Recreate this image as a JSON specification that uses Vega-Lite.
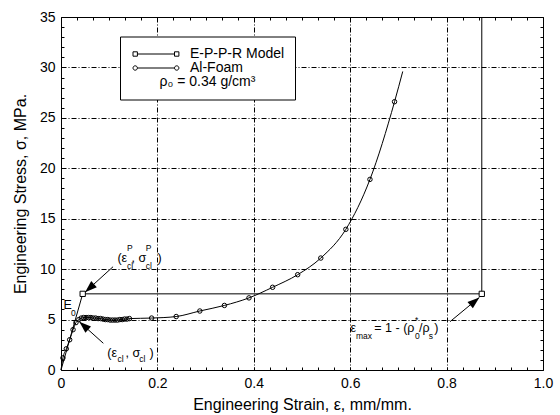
{
  "$schema": "https://vega.github.io/schema/vega-lite/v6.json",
  "width": 482,
  "height": 353,
  "autosize": {"type": "none"},
  "padding": {"left": 61, "top": 17, "right": 17, "bottom": 45},
  "background": "white",
  "config": {
    "view": {"stroke": "black", "strokeWidth": 1},
    "font": "Liberation Sans",
    "axis": {
      "labelFont": "Liberation Sans",
      "labelFontSize": 14,
      "labelColor": "black",
      "titleFont": "Liberation Sans",
      "titleFontSize": 16,
      "titleFontWeight": "normal",
      "titleColor": "black",
      "tickColor": "black",
      "tickWidth": 1,
      "domain": false
    }
  },
  "datasets": {
    "model": [
      {"series": "E-P-P-R Model", "strain": 0, "stress": 0},
      {"series": "E-P-P-R Model", "strain": 0.045, "stress": 7.55},
      {"series": "E-P-P-R Model", "strain": 0.873, "stress": 7.55},
      {"series": "E-P-P-R Model", "strain": 0.873, "stress": 35}
    ],
    "foam": [
      {"series": "Al-Foam", "strain": 0, "stress": 0},
      {"series": "Al-Foam", "strain": 0.004, "stress": 1.2},
      {"series": "Al-Foam", "strain": 0.011, "stress": 2.1},
      {"series": "Al-Foam", "strain": 0.018, "stress": 3.0},
      {"series": "Al-Foam", "strain": 0.025, "stress": 4.0},
      {"series": "Al-Foam", "strain": 0.031, "stress": 4.7},
      {"series": "Al-Foam", "strain": 0.037, "stress": 5.0},
      {"series": "Al-Foam", "strain": 0.042, "stress": 5.15},
      {"series": "Al-Foam", "strain": 0.047, "stress": 5.2},
      {"series": "Al-Foam", "strain": 0.052, "stress": 5.2},
      {"series": "Al-Foam", "strain": 0.057, "stress": 5.2},
      {"series": "Al-Foam", "strain": 0.062, "stress": 5.2},
      {"series": "Al-Foam", "strain": 0.067, "stress": 5.15},
      {"series": "Al-Foam", "strain": 0.072, "stress": 5.15},
      {"series": "Al-Foam", "strain": 0.077, "stress": 5.1},
      {"series": "Al-Foam", "strain": 0.082, "stress": 5.1},
      {"series": "Al-Foam", "strain": 0.087, "stress": 5.05},
      {"series": "Al-Foam", "strain": 0.092, "stress": 5.0},
      {"series": "Al-Foam", "strain": 0.097, "stress": 5.0},
      {"series": "Al-Foam", "strain": 0.102, "stress": 4.95},
      {"series": "Al-Foam", "strain": 0.107, "stress": 4.95},
      {"series": "Al-Foam", "strain": 0.112, "stress": 4.95},
      {"series": "Al-Foam", "strain": 0.117, "stress": 4.95},
      {"series": "Al-Foam", "strain": 0.122, "stress": 5.0},
      {"series": "Al-Foam", "strain": 0.127, "stress": 5.0},
      {"series": "Al-Foam", "strain": 0.132, "stress": 5.05},
      {"series": "Al-Foam", "strain": 0.137, "stress": 5.05},
      {"series": "Al-Foam", "strain": 0.142, "stress": 5.1},
      {"series": "Al-Foam", "strain": 0.188, "stress": 5.15},
      {"series": "Al-Foam", "strain": 0.239, "stress": 5.3},
      {"series": "Al-Foam", "strain": 0.288, "stress": 5.85},
      {"series": "Al-Foam", "strain": 0.339, "stress": 6.4},
      {"series": "Al-Foam", "strain": 0.39, "stress": 7.15},
      {"series": "Al-Foam", "strain": 0.439, "stress": 8.2},
      {"series": "Al-Foam", "strain": 0.491, "stress": 9.45},
      {"series": "Al-Foam", "strain": 0.539, "stress": 11.1},
      {"series": "Al-Foam", "strain": 0.591, "stress": 13.95},
      {"series": "Al-Foam", "strain": 0.641, "stress": 18.9},
      {"series": "Al-Foam", "strain": 0.692, "stress": 26.6},
      {"series": "Al-Foam", "strain": 0.709, "stress": 29.6}
    ],
    "notes": [
      {"kind": "main", "strain": 0.117, "stress": 11.15, "text": "(ε"},
      {"kind": "script", "strain": 0.137, "stress": 12.05, "text": "P"},
      {"kind": "script", "strain": 0.137, "stress": 10.3, "text": "cl"},
      {"kind": "main", "strain": 0.1463, "stress": 11.15, "text": ", σ"},
      {"kind": "script", "strain": 0.1757, "stress": 12.05, "text": "P"},
      {"kind": "script", "strain": 0.1757, "stress": 10.3, "text": "cl"},
      {"kind": "main", "strain": 0.2, "stress": 11.15, "text": ")"},
      {"kind": "main", "strain": 0.0961, "stress": 1.66, "text": "(ε"},
      {"kind": "script", "strain": 0.117, "stress": 1.1, "text": "cl"},
      {"kind": "main", "strain": 0.1338, "stress": 1.66, "text": ", σ"},
      {"kind": "script", "strain": 0.1624, "stress": 1.1, "text": "cl"},
      {"kind": "main", "strain": 0.1836, "stress": 1.66, "text": ")"},
      {"kind": "main", "strain": 0.6006, "stress": 4.13, "text": "ε"},
      {"kind": "script", "strain": 0.612, "stress": 3.4, "text": "max"},
      {"kind": "main", "strain": 0.65, "stress": 4.13, "text": "= 1 - (ρ"},
      {"kind": "script", "strain": 0.7345, "stress": 3.4, "text": "0"},
      {"kind": "script", "strain": 0.7345, "stress": 5.0, "text": "*"},
      {"kind": "main", "strain": 0.7427, "stress": 4.13, "text": "/ρ"},
      {"kind": "script", "strain": 0.763, "stress": 3.4, "text": "s"},
      {"kind": "main", "strain": 0.7745, "stress": 4.13, "text": ")"},
      {"kind": "main", "strain": 0.005, "stress": 6.44, "text": "E"},
      {"kind": "script", "strain": 0.0207, "stress": 5.7, "text": "0"}
    ],
    "arrows": [
      {"arrow": "A", "from_strain": 0.108, "from_stress": 10.24, "to_strain": 0.05, "to_stress": 7.72},
      {"arrow": "B", "from_strain": 0.0878, "from_stress": 2.65, "to_strain": 0.038, "to_stress": 4.79},
      {"arrow": "C", "from_strain": 0.807, "from_stress": 4.79, "to_strain": 0.868, "to_stress": 7.2}
    ]
  },
  "layer": [
    {
      "data": {"name": "foam"},
      "mark": {"type": "line", "color": "black", "strokeWidth": 1, "interpolate": "monotone"},
      "encoding": {
        "x": {
          "field": "strain", "type": "quantitative",
          "scale": {"domain": [0, 1], "nice": false, "zero": false},
          "axis": {
            "orient": "bottom",
            "values": [0,0.033333,0.066667,0.1,0.133333,0.166667,0.2,0.233333,0.266667,0.3,0.333333,0.366667,0.4,0.433333,0.466667,0.5,0.533333,0.566667,0.6,0.633333,0.666667,0.7,0.733333,0.766667,0.8,0.833333,0.866667,0.9,0.933333,0.966667,1],
            "title": "Engineering Strain, ε, mm/mm.",
            "labelExpr": "abs(datum.value*5-round(datum.value*5))<0.001 ? (datum.value < 0.001 ? '0' : format(datum.value, '.1f')) : ''",
            "labelOverlap": false,
            "labelFlush": false,
            "tickSize": -3,
            "labelPadding": 9,
            "titlePadding": 6,
            "grid": true,
            "gridColor": "black",
            "gridWidth": 1,
            "gridDash": [5, 2, 1, 2],
            "gridOpacity": {"condition": {"test": "abs(datum.value*5-round(datum.value*5))<0.001 && datum.value>0.001 && datum.value<0.999", "value": 1}, "value": 0}
          }
        },
        "y": {
          "field": "stress", "type": "quantitative",
          "scale": {"domain": [0, 35], "nice": false},
          "axis": {
            "orient": "left",
            "values": [0,1,2,3,4,5,6,7,8,9,10,11,12,13,14,15,16,17,18,19,20,21,22,23,24,25,26,27,28,29,30,31,32,33,34,35],
            "title": "Engineering Stress, σ, MPa.",
            "labelExpr": "datum.value % 5 == 0 ? datum.label : ''",
            "labelOverlap": false,
            "labelFlush": false,
            "tickSize": -3,
            "labelPadding": 9,
            "titlePadding": 11,
            "grid": true,
            "gridColor": "black",
            "gridWidth": 1,
            "gridDash": [5, 2, 1, 2],
            "gridOpacity": {"condition": {"test": "datum.value % 5 == 0 && datum.value > 0 && datum.value < 35", "value": 1}, "value": 0}
          }
        }
      }
    },
    {
      "data": {"name": "model"},
      "mark": {"type": "line", "color": "black", "strokeWidth": 1},
      "encoding": {
        "x": {
          "field": "strain", "type": "quantitative",
          "axis": {
            "orient": "top",
            "values": [0,0.033333,0.066667,0.1,0.133333,0.166667,0.2,0.233333,0.266667,0.3,0.333333,0.366667,0.4,0.433333,0.466667,0.5,0.533333,0.566667,0.6,0.633333,0.666667,0.7,0.733333,0.766667,0.8,0.833333,0.866667,0.9,0.933333,0.966667,1],
            "labels": false, "grid": false, "title": null, "tickSize": -3
          }
        },
        "y": {
          "field": "stress", "type": "quantitative",
          "axis": {
            "orient": "right",
            "values": [0,1,2,3,4,5,6,7,8,9,10,11,12,13,14,15,16,17,18,19,20,21,22,23,24,25,26,27,28,29,30,31,32,33,34,35],
            "labels": false, "grid": false, "title": null, "tickSize": -3
          }
        }
      }
    },
    {
      "data": {"name": "foam"},
      "mark": {"type": "point", "filled": false, "color": "black", "strokeWidth": 1, "size": 16, "opacity": 0},
      "encoding": {
        "x": {"field": "strain", "type": "quantitative", "axis": null},
        "y": {"field": "stress", "type": "quantitative", "axis": null},
        "shape": {
          "field": "series", "type": "nominal",
          "scale": {
            "domain": ["E-P-P-R Model", "Al-Foam"],
            "range": [
              "M-2.25,-1.1h2.2v2.2h-2.2zM-0.05,0H18.5M18.5,-1.1h2.2v2.2h-2.2z",
              "M-2.25,0a1.1,1.1 0 1,0 2.2,0a1.1,1.1 0 1,0 -2.2,0M-0.05,0H18.5M18.5,0a1.1,1.1 0 1,0 2.2,0a1.1,1.1 0 1,0 -2.2,0"
            ]
          },
          "legend": {
            "title": "ρ₀ = 0.34 g/cm³",
            "titleOrient": "bottom",
            "titleAnchor": "middle",
            "titleFont": "Liberation Sans",
            "titleFontSize": 14,
            "titleFontWeight": "normal",
            "titleColor": "black",
            "titlePadding": 0,
            "titleLimit": 300,
            "orient": "none",
            "legendX": 59,
            "legendY": 19.5,
            "padding": 10.5,
            "strokeColor": "black",
            "fillColor": "white",
            "labelFont": "Liberation Sans",
            "labelFontSize": 14,
            "labelColor": "black",
            "labelOffset": 45.5,
            "labelLimit": 300,
            "symbolSize": 16,
            "symbolStrokeWidth": 1,
            "symbolStrokeColor": "black",
            "symbolFillColor": "transparent",
            "symbolOpacity": 1,
            "rowPadding": 0
          }
        }
      }
    },
    {
      "data": {"name": "model"},
      "transform": [{"filter": "datum.stress > 0 && datum.stress < 35"}],
      "mark": {"type": "point", "shape": "square", "filled": true, "fill": "white", "stroke": "black", "strokeWidth": 1, "size": 28, "opacity": 1},
      "encoding": {
        "x": {"field": "strain", "type": "quantitative", "axis": null},
        "y": {"field": "stress", "type": "quantitative", "axis": null}
      }
    },
    {
      "data": {"name": "foam"},
      "transform": [{"filter": "datum.stress > 0 && datum.strain < 0.7"}],
      "mark": {"type": "point", "shape": "circle", "filled": false, "color": "black", "strokeWidth": 1, "size": 20, "opacity": 1},
      "encoding": {
        "x": {"field": "strain", "type": "quantitative", "axis": null},
        "y": {"field": "stress", "type": "quantitative", "axis": null}
      }
    },
    {
      "data": {"name": "notes"},
      "transform": [{"filter": "datum.kind === 'main'"}],
      "mark": {"type": "text", "align": "left", "baseline": "middle", "font": "Liberation Sans", "fontSize": 12.5, "color": "black"},
      "encoding": {
        "x": {"field": "strain", "type": "quantitative", "axis": null},
        "y": {"field": "stress", "type": "quantitative", "axis": null},
        "text": {"field": "text"}
      }
    },
    {
      "data": {"name": "notes"},
      "transform": [{"filter": "datum.kind === 'script'"}],
      "mark": {"type": "text", "align": "left", "baseline": "middle", "font": "Liberation Sans", "fontSize": 8.5, "color": "black"},
      "encoding": {
        "x": {"field": "strain", "type": "quantitative", "axis": null},
        "y": {"field": "stress", "type": "quantitative", "axis": null},
        "text": {"field": "text"}
      }
    },
    {
      "data": {"name": "arrows"},
      "mark": {"type": "rule", "color": "black", "strokeWidth": 1},
      "encoding": {
        "x": {"field": "from_strain", "type": "quantitative", "axis": null},
        "y": {"field": "from_stress", "type": "quantitative", "axis": null},
        "x2": {"field": "to_strain"},
        "y2": {"field": "to_stress"}
      }
    },
    {
      "data": {"name": "arrows"},
      "transform": [{"filter": "datum.arrow === 'A'"}],
      "mark": {"type": "point", "shape": "M0,0L-0.7,2L0.7,2Z", "size": 144, "angle": 228, "filled": true, "color": "black", "strokeWidth": 0, "opacity": 1},
      "encoding": {
        "x": {"field": "to_strain", "type": "quantitative", "axis": null},
        "y": {"field": "to_stress", "type": "quantitative", "axis": null}
      }
    },
    {
      "data": {"name": "arrows"},
      "transform": [{"filter": "datum.arrow === 'B'"}],
      "mark": {"type": "point", "shape": "M0,0L-0.7,2L0.7,2Z", "size": 144, "angle": 312, "filled": true, "color": "black", "strokeWidth": 0, "opacity": 1},
      "encoding": {
        "x": {"field": "to_strain", "type": "quantitative", "axis": null},
        "y": {"field": "to_stress", "type": "quantitative", "axis": null}
      }
    },
    {
      "data": {"name": "arrows"},
      "transform": [{"filter": "datum.arrow === 'C'"}],
      "mark": {"type": "point", "shape": "M0,0L-0.7,2L0.7,2Z", "size": 144, "angle": 50, "filled": true, "color": "black", "strokeWidth": 0, "opacity": 1},
      "encoding": {
        "x": {"field": "to_strain", "type": "quantitative", "axis": null},
        "y": {"field": "to_stress", "type": "quantitative", "axis": null}
      }
    }
  ],
  "resolve": {"axis": {"x": "independent", "y": "independent"}}
}
